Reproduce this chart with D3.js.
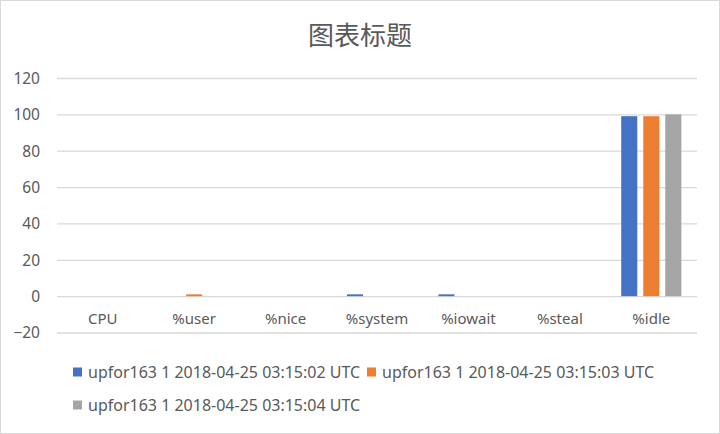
<!DOCTYPE html>
<html><head><meta charset="utf-8">
<script src="https://cdn.jsdelivr.net/npm/d3@7"></script>
<style>html,body{margin:0;padding:0;background:#fff;}</style>
</head><body>
<svg id="c" width="720" height="434"></svg>
<script>
const title = "图表标题";
const categories = ["CPU", "%user", "%nice", "%system", "%iowait", "%steal", "%idle"];
const seriesNames = [
  "upfor163 1 2018-04-25 03:15:02 UTC",
  "upfor163 1 2018-04-25 03:15:03 UTC",
  "upfor163 1 2018-04-25 03:15:04 UTC"
];
const series1 = [0, 0, 0, 1, 1, 0, 99];
const series2 = [0, 1, 0, 0, 0, 0, 99];
const series3 = [0, 0, 0, 0, 0, 0, 100];
const yTicks = [-20, 0, 20, 40, 60, 80, 100, 120];
const colors = ["#4472C4", "#ED7D31", "#A5A5A5"];

const allSeries = [series1, series2, series3];
const svg = d3.select("#c");
const W = 720, H = 434;
const font = "'Noto Sans','Noto Sans CJK SC',sans-serif";
const txt = "#595959";

svg.append("rect").attr("x", 0.5).attr("y", 0.5).attr("width", W - 1).attr("height", H - 1)
  .attr("fill", "#fff").attr("stroke", "#D9D9D9");

svg.append("text").attr("x", 360).attr("y", 45).attr("text-anchor", "middle")
  .attr("font-family", "'Noto Sans CJK SC',sans-serif").attr("font-size", 26).attr("fill", txt).text(title);

const left = 57, right = 697;
const y = d3.scaleLinear().domain([-20, 120]).range([332.5, 78]);
const x0 = d3.scaleBand().domain(categories).range([left, right]).padding(0);
const x1 = d3.scaleBand().domain(d3.range(allSeries.length)).range([0, x0.bandwidth()])
  .paddingInner(0.27).paddingOuter(0.71);

// gridlines
const yAxis = d3.axisLeft(y).tickValues(yTicks).tickSize(-(right - left)).tickPadding(17);
const gy = svg.append("g").attr("transform", `translate(${left},0)`).call(yAxis);
gy.select(".domain").remove();
gy.selectAll(".tick line").attr("stroke", "#D9D9D9").attr("stroke-width", 1.3);
gy.selectAll(".tick text").attr("font-family", font).attr("font-size", 15.5).attr("fill", txt).attr("dy", "0.35em");

// bars
const groups = svg.append("g").selectAll("g").data(allSeries).join("g").attr("fill", (d, i) => colors[i]);
groups.each(function (vals, si) {
  d3.select(this).selectAll("rect").data(vals.map((v, ci) => ({ v, c: categories[ci] }))).join("rect")
    .attr("x", d => x0(d.c) + x1(si))
    .attr("width", x1.bandwidth())
    .attr("y", d => Math.min(y(d.v), y(0)))
    .attr("height", d => Math.abs(y(d.v) - y(0)));
});

// category labels
const xAxis = d3.axisBottom(x0).tickSize(0).tickPadding(0);
const gx = svg.append("g").attr("transform", `translate(0,${y(0)})`).call(xAxis);
gx.select(".domain").remove();
gx.selectAll(".tick text").attr("font-family", font).attr("font-size", 15).attr("fill", txt)
  .attr("dy", "1.85em");

// legend
const legendPos = [[73, 372], [367, 372], [73, 405]];
const lg = svg.append("g").selectAll("g").data(seriesNames).join("g")
  .attr("transform", (d, i) => `translate(${legendPos[i][0]},${legendPos[i][1]})`);
lg.append("rect").attr("x", 0).attr("y", -4.5).attr("width", 9).attr("height", 9).attr("fill", (d, i) => colors[i]);
lg.append("text").attr("x", 15).attr("y", 0).attr("dy", "0.35em")
  .attr("font-family", font).attr("font-size", 16).attr("fill", txt).text(d => d);
</script>
</body></html>
